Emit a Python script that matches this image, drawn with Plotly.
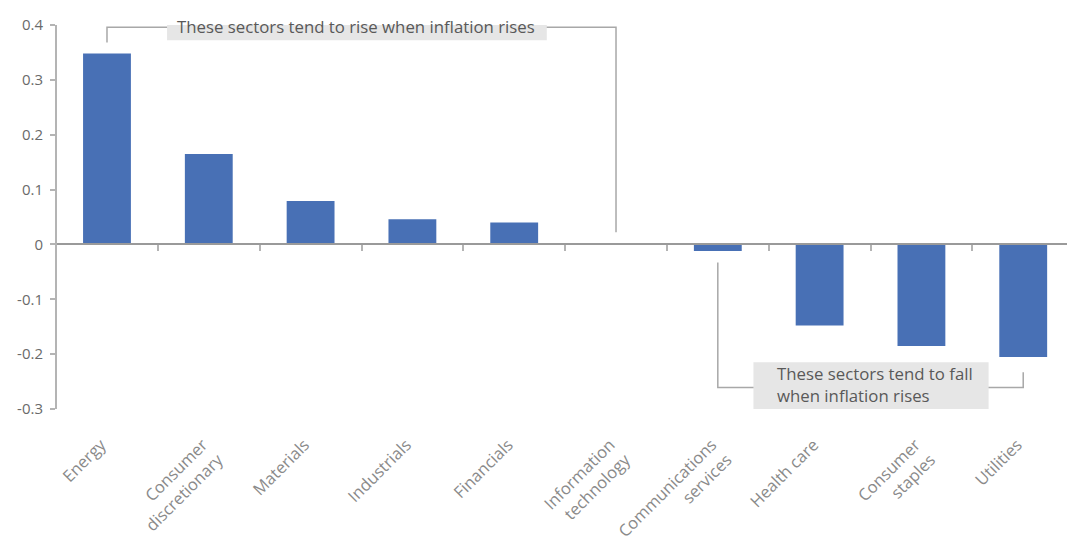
import plotly.graph_objects as go

# Sector sensitivity to inflation
sectors = [
    "Energy",
    "Consumer<br>discretionary",
    "Materials",
    "Industrials",
    "Financials",
    "Information<br>technology",
    "Communications<br>services",
    "Health care",
    "Consumer<br>staples",
    "Utilities",
]
values = [0.348, 0.165, 0.079, 0.046, 0.040, 0.002, -0.012, -0.148, -0.185, -0.205]

y_tickvals = [-0.3, -0.2, -0.1, 0, 0.1, 0.2, 0.3, 0.4]
y_ticktext = ["-0.3", "-0.2", "-0.1", "0", "0.1", "0.2", "0.3", "0.4"]

rise_note = "These sectors tend to rise when inflation rises"
fall_note = "These sectors tend to fall<br>when inflation rises"

BAR = "#4870b5"
AXIS = "#b4b4b4"
TEXT = "#595959"
BOX = "#e6e6e6"
FONT = "Open Sans"

n = len(sectors)
idx = list(range(n))
x_range = [-0.491, 9.43]
y_range = [-0.3, 0.4]

fig = go.Figure()
fig.add_trace(go.Bar(
    x=idx, y=values, width=0.47, marker=dict(color=BAR, line=dict(width=0)),
    hoverinfo="skip", showlegend=False,
))
# helper trace so the zero-line axis (with boundary ticks) is rendered
fig.add_trace(go.Scatter(
    x=idx, y=[0] * n, xaxis="x2", yaxis="y", mode="markers",
    marker=dict(opacity=0), hoverinfo="skip", showlegend=False,
))

line_style = dict(color="#a8a8a8", width=1.5)
shapes = [
    # bracket over the rising sectors
    dict(type="path", xref="x", yref="y",
         path="M 0,0.368 L 0,0.396 L 5,0.396 L 5,0.022", line=line_style),
    # bracket under the falling sectors
    dict(type="path", xref="x", yref="y",
         path="M 6,-0.033 L 6,-0.261 L 9,-0.261 L 9,-0.233", line=line_style),
    # label boxes
    dict(type="rect", xref="x", yref="y", x0=0.59, x1=4.32, y0=0.372, y1=0.423,
         fillcolor=BOX, line=dict(width=0)),
    dict(type="rect", xref="x", yref="y", x0=6.35, x1=8.66, y0=-0.308, y1=-0.215,
         fillcolor=BOX, line=dict(width=0)),
]

annotations = [
    dict(text=rise_note, xref="x", yref="y", x=2.445, y=0.397, showarrow=False,
         xanchor="center", yanchor="middle", font=dict(family=FONT, size=16.8, color=TEXT)),
    dict(text=fall_note, xref="x", yref="y", x=6.565, y=-0.255, showarrow=False,
         xanchor="left", yanchor="middle", align="left",
         font=dict(family=FONT, size=16.8, color=TEXT)),
]

fig.update_layout(
    width=1067, height=548,
    margin=dict(l=57, r=0, t=25, b=139),
    paper_bgcolor="white", plot_bgcolor="white",
    font=dict(family=FONT, color=TEXT),
    shapes=shapes,
    annotations=annotations,
    xaxis=dict(
        range=x_range, tickmode="array", tickvals=idx, ticktext=sectors,
        tickangle=-45, ticks="", showline=False, showgrid=False, zeroline=False,
        tickfont=dict(family=FONT, size=16.5, color="#8a8a8a"),
        ticklabelstandoff=22, ticklabelshift=-6, automargin=False,
    ),
    xaxis2=dict(
        range=x_range, overlaying="x", anchor="free",
        position=(0 - y_range[0]) / (y_range[1] - y_range[0]),
        tickmode="array", tickvals=[i + 0.5 for i in range(n - 1)],
        showticklabels=False, ticks="outside", ticklen=6, tickwidth=1.5,
        tickcolor=AXIS, showline=True, linecolor="#9a9a9a", linewidth=1.5,
        showgrid=False, zeroline=False, automargin=False,
    ),
    yaxis=dict(
        range=y_range, tickmode="array", tickvals=y_tickvals, ticktext=y_ticktext,
        ticks="outside", ticklen=5, tickwidth=1.5, tickcolor=AXIS,
        showline=True, linecolor=AXIS, linewidth=2,
        showgrid=False, zeroline=False, automargin=False,
        tickfont=dict(family=FONT, size=15, color="#6a6a6a"),
        ticklabelstandoff=4,
    ),
)

fig.write_html("out.html")
